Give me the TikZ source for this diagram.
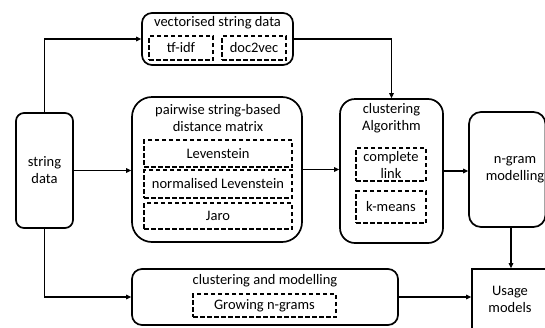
\documentclass[tikz,border=0pt]{standalone}
\usepackage{fontspec}
\setmainfont{Carlito}
\usetikzlibrary{arrows.meta}
\tikzset{
  box/.style={draw=black, line width=1.7pt, fill=white, inner sep=0pt, align=center},
  inner/.style={draw=black, line width=1.5pt, dash pattern=on 4.5pt off 2.5pt, inner sep=0pt, align=center},
  arr/.style={line width=1.6pt, -{Triangle[length=5pt,width=4.5pt]}},
  lbl/.style={inner sep=0pt, align=center}
}
\begin{document}
\begin{tikzpicture}[x=1pt,y=-1pt, font=\fontsize{14.5}{17}\selectfont]
\useasboundingbox (0,0) rectangle (545,327);
\begin{scope}
\clip (0,0) rectangle (545,327);

% input
\node[box, rounded corners=8pt, minimum width=57pt, minimum height=115pt] (sd) at (44.5,170.5) {string\\data};

% vectorised representations
\node[box, rounded corners=10pt, minimum width=151pt, minimum height=52pt] (vec) at (217.5,39) {};
\node[lbl] (vect) at (217.5,23) {vectorised string data};
\node[inner, minimum width=64pt, minimum height=24pt] (tfidf) at (181,48) {tf-idf};
\node[inner, minimum width=64pt, minimum height=24pt] (d2v) at (254,48) {doc2vec};

% pairwise distances
\node[box, rounded corners=20pt, minimum width=170pt, minimum height=145pt] (pw) at (217,169.5) {};
\node[lbl] (pwt) at (218,118.5) {pairwise string-based\\distance matrix};
\node[inner, minimum width=148pt, minimum height=27pt] (lev) at (218,153.5) {Levenstein};
\node[inner, minimum width=148pt, minimum height=28pt] (nlev) at (218,184) {normalised Levenstein};
\node[inner, minimum width=148pt, minimum height=26pt] (jaro) at (218,216) {Jaro};

% clustering
\node[box, rounded corners=15pt, minimum width=103pt, minimum height=144pt] (cl) at (391.5,171) {};
\node[lbl] (clt) at (391.5,118.5) {clustering\\Algorithm};
\node[inner, minimum width=70pt, minimum height=33pt] (cpl) at (391,164.5) {complete\\link};
\node[inner, minimum width=70pt, minimum height=32pt] (km) at (391,207) {k-means};

% n-gram modelling
\node[box, rounded corners=12pt, minimum width=76.5pt, minimum height=115pt] (ng) at (507.25,169.5) {};
\node[lbl] (ngt) at (515,169.5) {n-gram\\modelling};

% joint clustering and modelling
\node[box, rounded corners=10pt, minimum width=266pt, minimum height=56pt] (cm) at (265,297) {};
\node[lbl] (cmt) at (265,281) {clustering and modelling};
\node[inner, minimum width=143pt, minimum height=23pt] (grow) at (264.5,305.5) {Growing n-grams};

% output
\node[box, minimum width=74pt, minimum height=62pt] (us) at (509,300) {};
\node[lbl] (ust) at (510,299) {Usage\\models};

% connectors
\draw[arr] (sd.north) |- (vec.west);
\draw[arr] (sd.east) -- (sd.east -| pw.west);
\draw[arr] (sd.south) |- (cm.west);
\draw[arr] (vec.east) -| (cl.north);
\draw[arr] (pw.east) -- (pw.east -| cl.west);
\draw[arr] (cl.east) -- (cl.east -| ng.west);
\coordinate (ngb) at ([xshift=3.75pt]ng.south);
\draw[arr] (ngb) -- (ngb |- us.north);
\draw[arr] (cm.east) -- (cm.east -| us.west);
\end{scope}
\end{tikzpicture}
\end{document}
